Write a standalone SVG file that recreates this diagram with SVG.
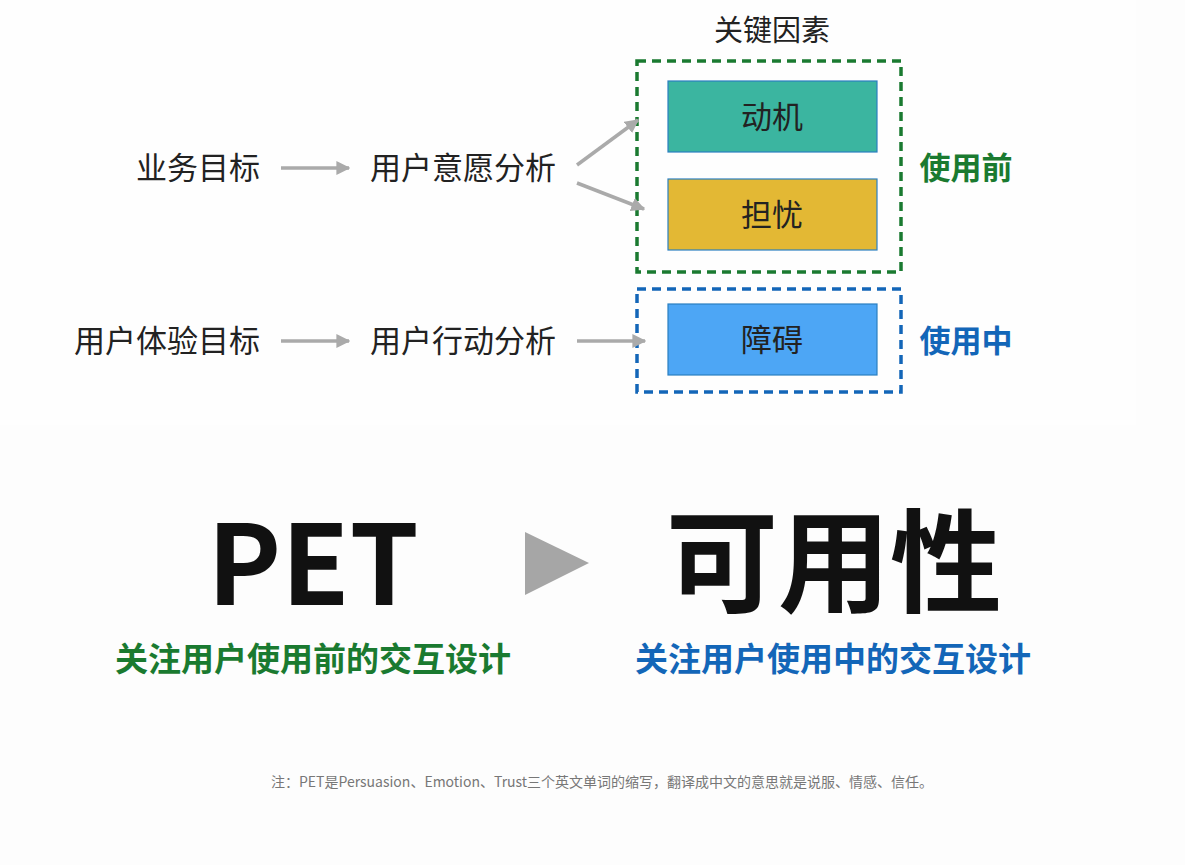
<svg xmlns="http://www.w3.org/2000/svg" width="1185" height="865" viewBox="0 0 1185 865">
<style>
text{font-family:"Noto Sans CJK SC","Liberation Sans",sans-serif;}
.lbl{font-size:31px;fill:#222;}
.box{stroke:#2a7fc0;stroke-width:1.2;}
.conn{stroke:#aaaaaa;stroke-width:3.5;fill:none;}
.green{fill:#1a7a30;}
.blue{fill:#1366b8;}
</style>
<defs>
<marker id="ah" viewBox="0 0 10 10" refX="9" refY="5" markerWidth="4" markerHeight="4" orient="auto" markerUnits="strokeWidth">
<path d="M0,0 L10,5 L0,10 z" fill="#aaaaaa"/>
</marker>
</defs>
<rect x="0" y="0" width="1185" height="865" fill="#fdfdfd"/>
<rect x="0" y="0" width="1136" height="425" fill="#fefefe"/>

<g id="title"><text x="772" y="41" text-anchor="middle" font-size="29" fill="#222">关键因素</text></g>

<g id="group-before">
<rect x="637" y="61" width="264" height="211" fill="none" stroke="#1a7a30" stroke-width="3.5" stroke-dasharray="9,6"/>
<text x="966" y="179" text-anchor="middle" font-size="31" font-weight="bold" class="green">使用前</text>
</g>
<g id="group-during">
<rect x="637" y="289" width="264" height="103" fill="none" stroke="#1366b8" stroke-width="3.5" stroke-dasharray="9,6"/>
<text x="966" y="352" text-anchor="middle" font-size="31" font-weight="bold" class="blue">使用中</text>
</g>

<g id="node-motive"><rect class="box" x="668" y="81" width="209" height="71" fill="#3bb5a0"/><text class="lbl" x="772" y="128" text-anchor="middle">动机</text></g>
<g id="node-worry"><rect class="box" x="668" y="179" width="209" height="71" fill="#e3b834"/><text class="lbl" x="772" y="226" text-anchor="middle">担忧</text></g>
<g id="node-obstacle"><rect class="box" x="668" y="304" width="209" height="71" fill="#4da6f5"/><text class="lbl" x="772" y="351" text-anchor="middle">障碍</text></g>

<g id="node-biz"><text class="lbl" x="198" y="179" text-anchor="middle">业务目标</text></g>
<g id="node-will"><text class="lbl" x="463" y="179" text-anchor="middle">用户意愿分析</text></g>
<g id="node-ux"><text class="lbl" x="167" y="352" text-anchor="middle">用户体验目标</text></g>
<g id="node-action"><text class="lbl" x="463" y="352" text-anchor="middle">用户行动分析</text></g>

<g id="connectors">
<line class="conn" x1="281" y1="168" x2="349" y2="168" marker-end="url(#ah)"/>
<line class="conn" x1="577" y1="165" x2="638" y2="120" marker-end="url(#ah)"/>
<line class="conn" x1="577" y1="183" x2="644" y2="209" marker-end="url(#ah)"/>
<line class="conn" x1="281" y1="341" x2="349" y2="341" marker-end="url(#ah)"/>
<line class="conn" x1="577" y1="341" x2="645" y2="341" marker-end="url(#ah)"/>
</g>

<g id="pet">
<text x="313" y="605" text-anchor="middle" font-family="Liberation Sans, Arial, sans-serif" font-size="111" font-weight="bold" fill="#111">PET</text>
<text x="313" y="671" text-anchor="middle" font-size="33" font-weight="bold" class="green">关注用户使用前的交互设计</text>
</g>
<g id="arrow-big"><polygon points="525,532 589,563 525,595" fill="#a6a6a6"/></g>
<g id="usability">
<text x="834" y="604" text-anchor="middle" font-size="112" font-weight="bold" fill="#111">可用性</text>
<text x="833" y="671" text-anchor="middle" font-size="33" font-weight="bold" class="blue">关注用户使用中的交互设计</text>
</g>
<g id="note"><text x="602" y="787" text-anchor="middle" font-size="14" fill="#777">注：PET是Persuasion、Emotion、Trust三个英文单词的缩写，翻译成中文的意思就是说服、情感、信任。</text></g>
</svg>
